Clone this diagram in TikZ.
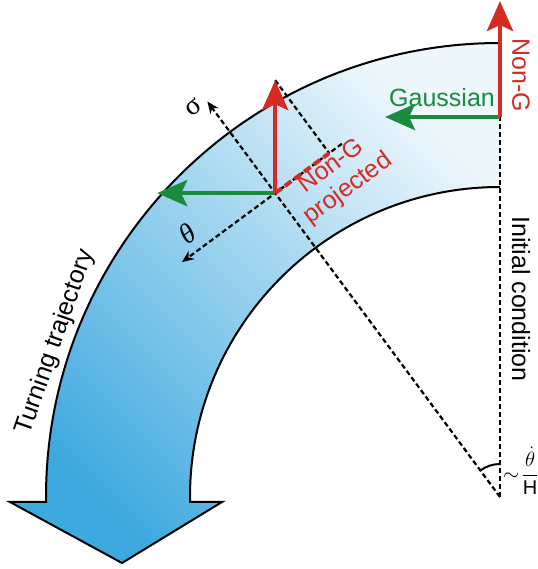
\documentclass[tikz,border=0pt]{standalone}
\usepackage{fontspec}
\setmainfont{Liberation Sans}
\newfontfamily\greekfont{Liberation Serif}
\usetikzlibrary{positioning,arrows.meta,calc}
\definecolor{cred}{HTML}{D62A22}
\definecolor{cgreen}{HTML}{1A8A3E}
\definecolor{blight}{HTML}{EEF7FC}
\definecolor{bdark}{HTML}{3DA9DF}
\tikzset{
  band/.style={top color=blight, bottom color=bdark, shading angle=-45},
  trackline/.style={draw=black, line width=2pt, line join=miter},
  bigred/.style={-{Stealth[length=30pt,width=26pt,inset=6pt]}, line width=4.5pt, draw=cred},
  biggreen/.style={-{Stealth[length=30pt,width=26pt,inset=6pt]}, line width=4.5pt, draw=cgreen},
  axisarrow/.style={-{Stealth[length=12pt,width=10pt]}, line width=2.2pt, dash pattern=on 5pt off 3pt},
  guide/.style={line width=2.2pt, dash pattern=on 5pt off 3pt},
  projred/.style={line width=4pt, draw=cred, dash pattern=on 8pt off 4pt},
  lbl/.style={font=\fontsize{25}{28}\selectfont, inner sep=0pt},
  greek/.style={font=\greekfont\fontsize{28}{28}\selectfont, inner sep=0pt}
}
\begin{document}
\begin{tikzpicture}[x=1pt,y=1pt]
\useasboundingbox (0,0) rectangle (537,569);
% centre of the turn and the two sample points
\coordinate (C) at (500,72);
\coordinate (R) at (500,452);
\coordinate (P) at ($(C)+(126.5:378)$);
% the turning band
\shade[band] (500,526) arc[start angle=90,end angle=180,radius=454] -- (46,67) -- (10,67) -- (122,6)
  -- (222,67) -- (190,67) -- (190,72) arc[start angle=180,end angle=90,radius=310] -- cycle;
\draw[trackline] (500,526) arc[start angle=90,end angle=180,radius=454] -- (46,67) -- (10,67) -- (122,6)
  -- (222,67) -- (190,67) -- (190,72) arc[start angle=180,end angle=90,radius=310];
% axes at the sample point
\coordinate (sigtip) at ($(C)+(126.5:492)$);
\coordinate (thstart) at ($(P)+(36.5:83)$);
\coordinate (thtip) at ($(P)+(216.5:116)$);
\coordinate (T) at ($(P)+(0,113)$);
\coordinate (Q) at ($(P)+(36.5:67.2)$);
\coordinate (Gp) at ($(P)+(-118,0)$);
\coordinate (Rtop) at (500,568);
\coordinate (Gtop) at (385,452);
\coordinate (angA) at ($(C)+(90:33)$);
\draw[guide] (C) -- (R);
\draw[axisarrow] (C) -- (sigtip);
\draw[axisarrow] (thstart) -- (thtip);
\draw[guide] (T) -- (Q);
\draw[projred] (P) -- (Q);
\draw[line width=2pt] (angA) arc[start angle=90,end angle=126.5,radius=33];
% forces
\draw[biggreen] (R) -- (Gtop);
\draw[bigred] (R) -- (Rtop);
\draw[biggreen] (P) -- (Gp);
\draw[bigred] (P) -- (T);
% labels
\node[lbl, text=cgreen] (gauss) at (442,471) {Gaussian};
\node[lbl, text=cred, rotate=-90] (nongtop) at (521,494) {Non-G};
\node[lbl, rotate=-90] (init) at (521,270) {Initial condition};
\node[lbl, rotate=70.8, anchor=south] (turn) at ($(C)+(160.8:459)$) {Turning trajectory};
\node[lbl, text=cred, rotate=36.5, align=center] (proj) at (340,391) {Non-G\\projected};
\node[greek, rotate=36.5] (sig) at (193,462) {σ};
\node[greek, rotate=36.5] (th) at (187,335) {\itshape θ};
\node[anchor=west, inner sep=0pt, font=\fontsize{20}{24}\selectfont] (rate) at (503,98)
  {$\sim\!\displaystyle\frac{\dot\theta}{\mbox{H}}$};
\end{tikzpicture}
\end{document}
